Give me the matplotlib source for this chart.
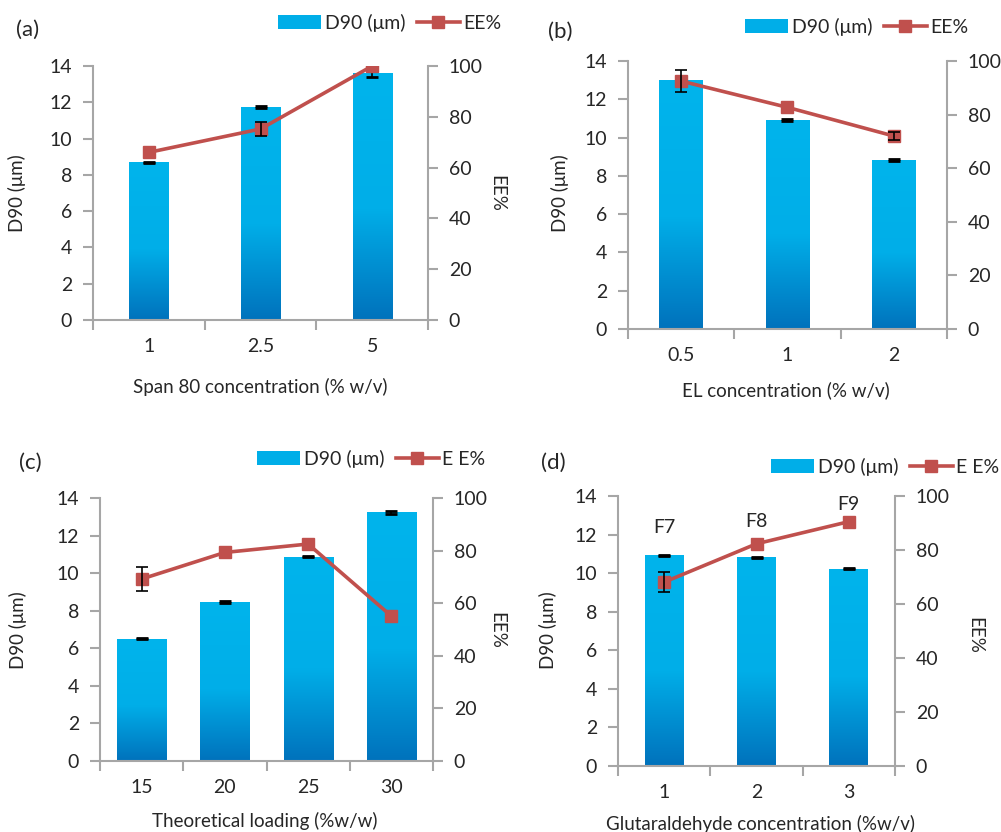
import matplotlib
matplotlib.use("Agg")
import matplotlib.pyplot as plt
import numpy as np
from matplotlib.colors import LinearSegmentedColormap
from matplotlib.patches import Patch
from matplotlib.lines import Line2D

plt.rcParams['font.family'] = ['Lato', 'DejaVu Sans']

# ---------------- data ----------------
a_cats = ['1', '2.5', '5']
a_d90 = [8.69, 11.74, 13.6]
a_d90_err = [0.04, 0.04, 0.22]
a_ee = [66.0, 75.2, 100.0]
a_ee_err = [0.0, 2.6, 0.0]

b_cats = ['0.5', '1', '2']
b_d90 = [12.99, 10.92, 8.82]
b_d90_err = [0.04, 0.04, 0.04]
b_ee = [92.5, 82.7, 72.0]
b_ee_err = [4.0, 0.0, 1.6]

c_cats = ['15', '20', '25', '30']
c_d90 = [6.51, 8.48, 10.88, 13.24]
c_d90_err = [0.03, 0.05, 0.03, 0.09]
c_ee = [69.2, 79.3, 82.5, 55.1]
c_ee_err = [4.7, 0.0, 0.0, 0.0]

d_cats = ['1', '2', '3']
d_d90 = [10.92, 10.82, 10.24]
d_d90_err = [0.03, 0.03, 0.05]
d_ee = [68.1, 82.3, 90.5]
d_ee_err = [3.8, 0.0, 0.0]
d_labels = ['F7', 'F8', 'F9']
d_label_y = [12.37, 12.7, 13.57]

W, H = 1001, 832
fig = plt.figure(figsize=(W / 100, H / 100), dpi=100)

GRAY = '#a6a6a6'
TXT = '#262626'
RED = '#c0504d'
TICK_FS = 14
LAB_FS = 13.5
cmap = LinearSegmentedColormap.from_list('g', [(0, '#0072bc'), (0.45, '#00aee8'), (1, '#00b4ec')])


def px_axes(l, r, t, b):
    return [l / W, 1 - b / H, (r - l) / W, (b - t) / H]


def panel(rect, cats, d90, d90e, ee, eee, width, legend_pos, ee_label, xlabel, xlabel_pos,
          ylabel_pos, ee_label_pos, letter, letter_pos):
    ax = fig.add_axes(px_axes(*rect))
    n = len(cats)
    x = np.arange(n)
    bars = ax.bar(x, d90, width=width, color='#00aee8', zorder=2)
    grad = np.linspace(0, 1, 256).reshape(-1, 1)
    for bar in bars:
        bx, by = bar.get_x(), bar.get_y()
        bw, bh = bar.get_width(), bar.get_height()
        im = ax.imshow(grad, cmap=cmap, aspect='auto', origin='lower',
                       extent=[bx, bx + bw, by, by + bh], zorder=2.1)
        im.set_clip_path(bar)
    ax.errorbar(x, d90, yerr=d90e, fmt='none', ecolor='black', elinewidth=1.2,
                capsize=4, capthick=2, zorder=3)
    ax.set_xlim(-0.5, n - 0.5)
    ax.set_ylim(0, 14)
    ax.set_yticks(np.arange(0, 15, 2))
    ax.set_xticks(np.arange(-0.5, n, 1.0))
    ax.set_xticklabels([])
    ax.set_xticks(x, minor=True)
    ax.set_xticklabels(cats, minor=True)
    ax.tick_params(axis='x', which='major', direction='out', length=7, width=1.5, color=GRAY)
    ax.tick_params(axis='x', which='minor', length=0, pad=13, labelsize=TICK_FS, labelcolor=TXT)
    ax.tick_params(axis='y', direction='out', length=7, width=1.5, color=GRAY,
                   labelsize=TICK_FS, labelcolor=TXT, pad=8)
    for s in ['left', 'bottom']:
        ax.spines[s].set_color(GRAY)
        ax.spines[s].set_linewidth(1.5)
    ax.spines['top'].set_visible(False)
    ax.spines['right'].set_visible(False)

    ax2 = ax.twinx()
    ax2.set_ylim(0, 100)
    ax2.set_yticks(np.arange(0, 101, 20))
    ax2.plot(x, ee, color=RED, lw=2.6, marker='s', ms=9, mfc=RED, mec=RED, zorder=4)
    ex = [xi for xi, e in zip(x, eee) if e > 0]
    ey = [v for v, e in zip(ee, eee) if e > 0]
    ee_e = [e for e in eee if e > 0]
    if ex:
        ax2.errorbar(ex, ey, yerr=ee_e, fmt='none', ecolor='black', elinewidth=1.2,
                     capsize=4, capthick=1.2, zorder=5)
    ax2.tick_params(axis='y', direction='out', length=7, width=1.5, color=GRAY,
                    labelsize=TICK_FS, labelcolor=TXT, pad=8)
    ax2.spines['right'].set_color(GRAY)
    ax2.spines['right'].set_linewidth(1.5)
    for s in ['left', 'top', 'bottom']:
        ax2.spines[s].set_visible(False)

    handles = [Patch(facecolor='#00aee8', edgecolor='none'),
               Line2D([0], [0], color=RED, lw=2.6, marker='s', ms=9)]
    fig.legend(handles, ['D90 (\u03bcm)', ee_label], loc='center left',
               bbox_to_anchor=(legend_pos[0] / W, 1 - legend_pos[1] / H), ncol=2,
               frameon=False, fontsize=TICK_FS, handlelength=2.2, handleheight=0.75,
               handletextpad=0.2, columnspacing=0.6, borderpad=0, borderaxespad=0,
               labelcolor=TXT)

    fig.text(xlabel_pos[0] / W, 1 - xlabel_pos[1] / H, xlabel, ha='center', va='center',
             fontsize=LAB_FS, color=TXT)
    fig.text(ylabel_pos[0] / W, 1 - ylabel_pos[1] / H, 'D90 (\u03bcm)', ha='center', va='center',
             fontsize=LAB_FS, color=TXT, rotation=90)
    if ee_label_pos is not None:
        fig.text(ee_label_pos[0] / W, 1 - ee_label_pos[1] / H, 'EE%', ha='center', va='center',
                 fontsize=LAB_FS, color=TXT, rotation=270)
    fig.text(letter_pos[0] / W, 1 - letter_pos[1] / H, letter, ha='center', va='center',
             fontsize=16, color=TXT)
    return ax, ax2


panel((93, 428, 66, 320), a_cats, a_d90, a_d90_err, a_ee, a_ee_err, 0.35,
      (278, 23), 'EE%', 'Span 80 concentration (% w/v)', (260, 387),
      (17, 193), (497, 193), '(a)', (28, 30))

panel((628, 947, 61, 329), b_cats, b_d90, b_d90_err, b_ee, b_ee_err, 0.41,
      (745, 27), 'EE%', 'EL concentration (% w/v)', (786, 390),
      (560, 193), None, '(b)', (560, 32))

panel((100, 433, 498, 761), c_cats, c_d90, c_d90_err, c_ee, c_ee_err, 0.59,
      (257, 459), 'E E%', 'Theoretical loading (%w/w)', (265, 821),
      (18, 630), (497, 630), '(c)', (30, 463))

axd, axd2 = panel((618, 895, 496, 766), d_cats, d_d90, d_d90_err, d_ee, d_ee_err, 0.42,
                  (771, 467), 'E E%', 'Glutaraldehyde concentration (%w/v)', (760, 824),
                  (548, 630), (975, 635), '(d)', (553, 463))
for xi, (lab, ly) in enumerate(zip(d_labels, d_label_y)):
    axd.text(xi, ly, lab, ha='center', va='center', fontsize=14, color=TXT, zorder=6)

fig.savefig('out.png', dpi=100)
